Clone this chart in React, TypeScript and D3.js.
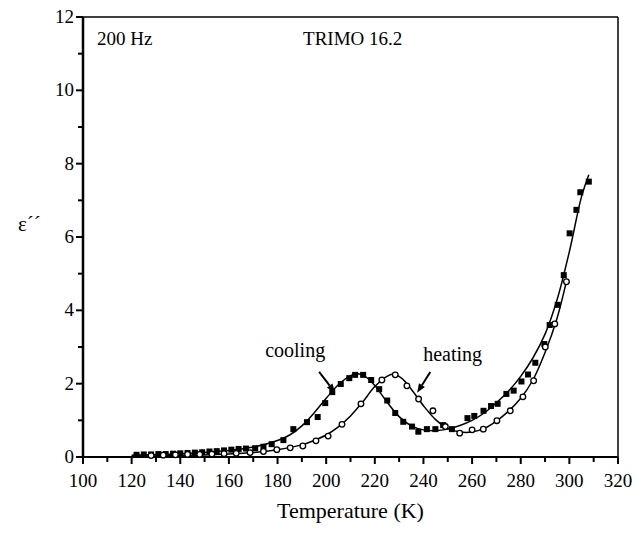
import React from "react";
import * as d3 from "d3";

// cooling run (filled squares): temperature K, eps''
const coolT = [122, 125, 128, 131, 134, 137, 140, 143, 146, 149, 152, 155, 158, 161, 164, 167, 170.8, 174.2, 177.6, 182.4, 186.5, 192.1, 196.5, 199.6, 202.5, 206, 209.5, 211.9, 215.2, 218.5, 221.8, 225.1, 228.4, 231.7, 235.3, 237.9, 241.4, 244.9, 248.1, 251.7, 258.1, 260.9, 264.7, 267.8, 270.5, 274.1, 277.1, 280.3, 283, 286, 289.7, 291.9, 295.2, 297.7, 300.1, 302.9, 304.5, 308];
const coolE = [0.06, 0.07, 0.07, 0.08, 0.08, 0.09, 0.1, 0.11, 0.12, 0.13, 0.15, 0.16, 0.18, 0.2, 0.22, 0.23, 0.24, 0.28, 0.35, 0.46, 0.76, 0.95, 1.09, 1.47, 1.77, 1.99, 2.15, 2.24, 2.24, 2.1, 1.85, 1.54, 1.2, 0.96, 0.83, 0.69, 0.76, 0.76, 0.87, 0.76, 1.06, 1.12, 1.26, 1.39, 1.45, 1.72, 1.81, 2.06, 2.25, 2.57, 3.08, 3.6, 4.15, 4.96, 6.1, 6.74, 7.22, 7.51];

// heating run (open circles)
const heatT = [128, 133, 138, 143, 148, 153, 158, 163, 168.7, 174.2, 179.7, 185.2, 190.4, 195.8, 200.8, 206.5, 214.3, 222.9, 228.4, 233.2, 238, 243.9, 249, 254.9, 260, 264.6, 270.2, 275.7, 280.9, 285.3, 290.1, 294, 298.8];
const heatE = [0.04, 0.05, 0.06, 0.07, 0.07, 0.08, 0.09, 0.1, 0.12, 0.15, 0.2, 0.25, 0.3, 0.44, 0.57, 0.89, 1.45, 2.1, 2.24, 1.94, 1.58, 1.26, 0.83, 0.65, 0.74, 0.76, 0.99, 1.26, 1.64, 2.08, 3.0, 3.63, 4.78];

// fitted curves
const coolFitT = [120, 140, 160, 170, 180, 185, 190, 195, 200, 205, 210, 213, 216, 220, 225, 230, 235, 240, 245, 250, 255, 260, 265, 270, 275, 280, 285, 290, 295, 300, 305, 308];
const coolFitE = [0.05, 0.09, 0.18, 0.27, 0.45, 0.6, 0.85, 1.2, 1.6, 1.97, 2.22, 2.27, 2.2, 1.95, 1.5, 1.1, 0.85, 0.74, 0.72, 0.76, 0.86, 1.0, 1.2, 1.48, 1.8, 2.2, 2.7, 3.35, 4.3, 5.6, 7.1, 7.7];
const heatFitT = [120, 140, 160, 170, 180, 190, 195, 200, 205, 210, 215, 220, 225, 228, 231, 235, 240, 245, 250, 255, 260, 265, 270, 275, 280, 285, 290, 295, 299];
const heatFitE = [0.02, 0.04, 0.08, 0.12, 0.2, 0.33, 0.45, 0.6, 0.82, 1.12, 1.5, 1.92, 2.2, 2.26, 2.15, 1.85, 1.4, 1.02, 0.78, 0.68, 0.68, 0.78, 0.98, 1.25, 1.6, 2.1, 2.85, 3.8, 4.85];

const xTicks = [100, 120, 140, 160, 180, 200, 220, 240, 260, 280, 300, 320];
const yTicks = [0, 2, 4, 6, 8, 10, 12];

const W = 638;
const H = 535;
const margin = { top: 17, right: 20, bottom: 78, left: 83 };
const serif = { fontFamily: "Liberation Serif, Times New Roman, DejaVu Serif, serif" };

export default function App() {
  const x = d3.scaleLinear().domain([100, 320]).range([margin.left, W - margin.right]);
  const y = d3.scaleLinear().domain([0, 12]).range([H - margin.bottom, margin.top]);
  const x0 = x.range()[0], x1 = x.range()[1];
  const y0 = y.range()[0], y1 = y.range()[1];

  const line = d3.line<[number, number]>()
    .x((d) => x(d[0]))
    .y((d) => y(d[1]))
    .curve(d3.curveCatmullRom.alpha(0.5));

  const coolFit = coolFitT.map((t, i) => [t, coolFitE[i]] as [number, number]);
  const heatFit = heatFitT.map((t, i) => [t, heatFitE[i]] as [number, number]);

  const minorX = d3.range(110, 320, 20);
  const minorY = d3.range(1, 12, 2);

  const arrow = (t0: number, e0: number, t1: number, e1: number) => {
    const ax = x(t0), ay = y(e0), bx = x(t1), by = y(e1);
    const ang = Math.atan2(by - ay, bx - ax);
    const len = 9, wid = 3.5;
    const px = bx - len * Math.cos(ang), py = by - len * Math.sin(ang);
    const nx = -Math.sin(ang) * wid, ny = Math.cos(ang) * wid;
    return (
      <g>
        <line x1={ax} y1={ay} x2={px} y2={py} stroke="#000" strokeWidth={2} />
        <polygon points={`${bx},${by} ${px + nx},${py + ny} ${px - nx},${py - ny}`} fill="#000" />
      </g>
    );
  };

  return (
    <svg width={W} height={H} style={{ position: "absolute", left: 0, top: 0, background: "#fff" }}>
      {/* frame */}
      <line x1={x0} y1={y1} x2={x1} y2={y1} stroke="#000" strokeWidth={1.5} />
      <line x1={x1} y1={y1} x2={x1} y2={y0} stroke="#000" strokeWidth={1.5} />
      <line x1={x0} y1={y0} x2={x1} y2={y0} stroke="#000" strokeWidth={2} />
      <line x1={x0} y1={y1} x2={x0} y2={y0} stroke="#000" strokeWidth={2.5} />

      {/* x axis ticks */}
      {xTicks.map((t) => (
        <g key={"xt" + t}>
          <line x1={x(t)} x2={x(t)} y1={y0} y2={y0 + 7} stroke="#000" strokeWidth={2} />
          <text x={x(t)} y={y0 + 30} fontSize={19} textAnchor="middle" style={serif}>{t}</text>
        </g>
      ))}
      {minorX.map((t) => (
        <line key={"xm" + t} x1={x(t)} x2={x(t)} y1={y0} y2={y0 + 5} stroke="#000" strokeWidth={2} />
      ))}

      {/* y axis ticks */}
      {yTicks.map((t) => (
        <g key={"yt" + t}>
          <line x1={x0 - 7} x2={x0} y1={y(t)} y2={y(t)} stroke="#000" strokeWidth={2} />
          <text x={x0 - 9} y={y(t) + 6} fontSize={19} textAnchor="end" style={serif}>{t}</text>
        </g>
      ))}
      {minorY.map((t) => (
        <line key={"ym" + t} x1={x0 - 5} x2={x0} y1={y(t)} y2={y(t)} stroke="#000" strokeWidth={2} />
      ))}

      {/* axis titles */}
      <text x={(x0 + x1) / 2} y={H - 17} fontSize={22} textAnchor="middle" style={serif}>Temperature (K)</text>
      <text x={18} y={y(6) - 6} fontSize={21} style={serif}>ε´´</text>

      {/* fits */}
      <path d={line(coolFit) || ""} fill="none" stroke="#000" strokeWidth={1.5} />
      <path d={line(heatFit) || ""} fill="none" stroke="#000" strokeWidth={1.5} />

      {/* data */}
      {coolT.map((t, i) => (
        <rect key={"c" + i} x={x(t) - 3} y={y(coolE[i]) - 3} width={6} height={6} fill="#000" />
      ))}
      {heatT.map((t, i) => (
        <circle key={"h" + i} cx={x(t)} cy={y(heatE[i])} r={2.8} fill="#fff" stroke="#000" strokeWidth={1.3} />
      ))}

      {/* annotations */}
      <text x={x(100) + 14} y={y(12) + 28} fontSize={19} style={serif}>200 Hz</text>
      <text x={x(190.5)} y={y(12) + 28} fontSize={19} style={serif}>TRIMO 16.2</text>
      <text x={x(174.9)} y={y(2.73)} fontSize={20} style={serif}>cooling</text>
      <text x={x(239.9)} y={y(2.62)} fontSize={20} style={serif}>heating</text>
      {arrow(197.1, 2.32, 203.7, 1.75)}
      {arrow(242.8, 2.32, 237.4, 1.75)}
    </svg>
  );
}
